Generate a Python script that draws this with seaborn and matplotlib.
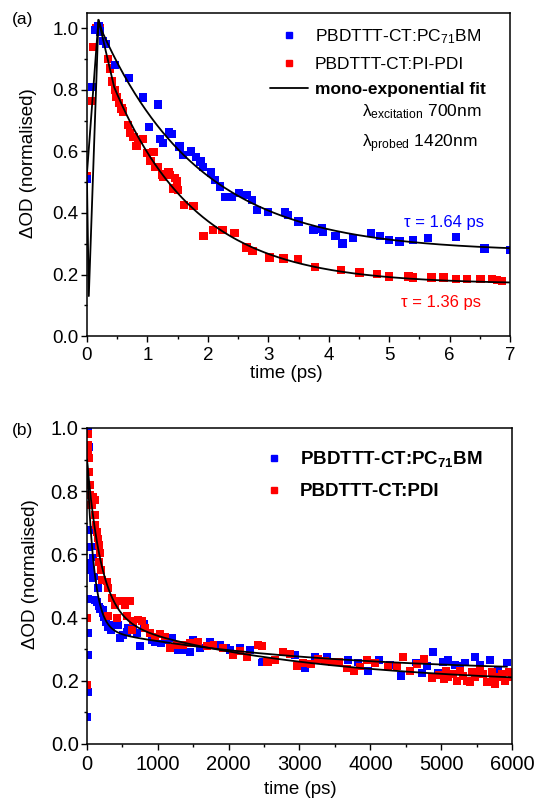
import numpy as np
import pandas as pd
import matplotlib
matplotlib.use('Agg')
import matplotlib.pyplot as plt
import seaborn as sns
from matplotlib.ticker import MultipleLocator
from matplotlib.lines import Line2D

sns.set_theme(style='ticks')
plt.rcParams['font.family'] = ['Liberation Sans', 'DejaVu Sans']
plt.rcParams['mathtext.fontset'] = 'custom'
plt.rcParams['mathtext.rm'] = 'Liberation Sans'
plt.rcParams['mathtext.it'] = 'Liberation Sans:italic'
plt.rcParams['mathtext.bf'] = 'Liberation Sans:bold'
plt.rcParams['axes.edgecolor'] = 'black'
plt.rcParams['text.color'] = 'black'
plt.rcParams['axes.labelcolor'] = 'black'
plt.rcParams['xtick.color'] = 'black'
plt.rcParams['ytick.color'] = 'black'

BLUE = '#0000ff'
RED = '#ff0000'

# ---------------- panel (a) data: 0-7 ps ----------------
a_blue_t = [0.00, 0.08, 0.13, 0.19, 0.22, 0.27, 0.31, 0.46, 0.70, 0.93, 1.03, 1.17, 1.21, 1.26,
            1.36, 1.40, 1.53, 1.59, 1.72, 1.80, 1.88, 1.92, 2.05, 2.12, 2.20, 2.28, 2.40, 2.51,
            2.64, 2.73, 2.81, 3.00, 3.28, 3.33, 3.50, 3.75, 3.89, 3.91, 4.11, 4.23, 4.40, 4.70,
            4.85, 5.00, 5.17, 5.40, 5.64, 6.11, 6.58, 7.00]
a_blue_y = [0.51, 0.81, 0.995, 1.006, 0.99, 0.96, 0.95, 0.88, 0.838, 0.775, 0.68, 0.753, 0.64, 0.627,
            0.664, 0.656, 0.616, 0.589, 0.60, 0.583, 0.567, 0.549, 0.532, 0.507, 0.486, 0.453, 0.453, 0.464,
            0.459, 0.442, 0.41, 0.404, 0.404, 0.393, 0.372, 0.345, 0.35, 0.339, 0.325, 0.301, 0.318, 0.336,
            0.325, 0.312, 0.307, 0.312, 0.318, 0.321, 0.285, 0.28]

a_red_t = [0.00, 0.08, 0.10, 0.16, 0.21, 0.35, 0.38, 0.41, 0.46, 0.49, 0.53, 0.57, 0.60, 0.68,
           0.71, 0.77, 0.82, 0.85, 0.93, 0.99, 1.05, 1.10, 1.13, 1.18, 1.24, 1.26, 1.35, 1.37,
           1.43, 1.46, 1.49, 1.51, 1.61, 1.76, 1.93, 2.08, 2.24, 2.44, 2.64, 2.74, 3.02, 3.25,
           3.49, 3.77, 4.20, 4.51, 4.80, 5.00, 5.32, 5.40, 5.70, 5.90, 6.11, 6.29, 6.51, 6.70,
           6.78, 6.87]
a_red_y = [0.52, 0.764, 0.939, 1.0, 1.0, 0.90, 0.87, 0.827, 0.80, 0.778, 0.757, 0.74, 0.73, 0.686,
           0.659, 0.648, 0.618, 0.637, 0.641, 0.594, 0.57, 0.599, 0.55, 0.55, 0.525, 0.518, 0.534, 0.523,
           0.48, 0.513, 0.502, 0.475, 0.426, 0.423, 0.325, 0.345, 0.345, 0.336, 0.288, 0.277, 0.255, 0.252,
           0.25, 0.225, 0.215, 0.207, 0.202, 0.193, 0.193, 0.19, 0.19, 0.19, 0.186, 0.185, 0.185, 0.185,
           0.182, 0.178]

# mono-exponential fit parameters (y = c + A exp(-t/tau))
a_blue_tau, a_blue_A, a_blue_c = 1.64, 0.834, 0.274
a_red_tau, a_red_A, a_red_c = 1.36, 0.891, 0.169
# instrument-limited rise of the fits
a_blue_rise_t = [0.0, 0.19]
a_blue_rise_y = [0.53, 1.028]
a_red_rise_t = [0.0, 0.03, 0.19]
a_red_rise_y = [0.50, 0.13, 1.028]
a_blue_decay_start = 0.25
a_red_decay_start = 0.45

# ---------------- panel (b) data: 0-6000 ps ----------------
b_blue_t = [8, 10, 12, 14, 16, 20, 24, 28, 32, 36, 40, 52, 66, 80, 89, 100, 110, 137, 150, 160,
            170, 184, 220, 230, 245, 268, 300, 340, 372, 442, 466, 513, 560, 583, 650, 700, 748,
            810, 913, 960, 1040, 1123, 1196, 1290, 1360, 1460, 1501, 1596, 1737, 1878, 1970, 2020,
            2160, 2302, 2467, 2490, 2937, 3078, 3219, 3384, 3690, 3831, 3972, 4127, 4278, 4429,
            4645, 4735, 4796, 4881, 4961, 5031, 5102, 5200, 5270, 5337, 5478, 5549, 5690, 5808, 5926]
b_blue_y = [0.085, 0.165, 0.282, 0.352, 0.459, 0.994, 0.94, 0.756, 0.677, 0.624, 0.573, 0.55, 0.625,
            0.59, 0.525, 0.53, 0.456, 0.45, 0.492, 0.493, 0.435, 0.427, 0.424, 0.414, 0.403, 0.387,
            0.371, 0.36, 0.377, 0.377, 0.335, 0.345, 0.354, 0.366, 0.365, 0.35, 0.31, 0.38, 0.329,
            0.324, 0.318, 0.33, 0.335, 0.297, 0.297, 0.291, 0.329, 0.303, 0.324, 0.313, 0.304, 0.297,
            0.303, 0.297, 0.258, 0.26, 0.281, 0.24, 0.274, 0.274, 0.266, 0.258, 0.232, 0.266, 0.25,
            0.215, 0.258, 0.224, 0.248, 0.291, 0.226, 0.26, 0.266, 0.25, 0.248, 0.258, 0.274, 0.25,
            0.266, 0.232, 0.258]

b_red_t = [6, 8, 15, 18, 22, 33, 36, 42, 45, 48, 66, 89, 113, 116, 120, 137, 160, 165, 184, 170,
           193, 207, 278, 301, 348, 395, 442, 489, 536, 607, 301, 419, 560, 654, 725, 772, 819,
           630, 890, 960, 1030, 1100, 1170, 1265, 1360, 1455, 1572, 1690, 1785, 1925, 2066, 2160,
           2254, 2419, 2467, 2545, 2560, 2655, 2772, 2866, 2969, 3054, 3157, 3266, 3360, 3454,
           3563, 3675, 3769, 3854, 3957, 4065, 4254, 4371, 4467, 4561, 4664, 4758, 4867, 4975,
           5040, 5070, 5100, 5172, 5220, 5267, 5314, 5360, 5408, 5432, 5479, 5550, 5596, 5643,
           5714, 5737, 5761, 5808, 5855, 5902, 5950, 5997]
b_red_y = [0.187, 0.40, 0.98, 0.946, 0.92, 0.904, 0.862, 0.82, 0.788, 0.757, 0.757, 0.782, 0.772,
           0.725, 0.694, 0.672, 0.65, 0.63, 0.604, 0.577, 0.551, 0.52, 0.514, 0.493, 0.462, 0.44,
           0.452, 0.452, 0.44, 0.452, 0.404, 0.399, 0.404, 0.388, 0.394, 0.388, 0.367, 0.362,
           0.351, 0.34, 0.348, 0.34, 0.303, 0.314, 0.314, 0.319, 0.324, 0.309, 0.314, 0.305, 0.282,
           0.293, 0.274, 0.313, 0.31, 0.26, 0.26, 0.266, 0.292, 0.284, 0.247, 0.255, 0.253, 0.268,
           0.264, 0.26, 0.26, 0.239, 0.232, 0.245, 0.266, 0.255, 0.245, 0.248, 0.276, 0.232, 0.253,
           0.27, 0.208, 0.218, 0.205, 0.232, 0.211, 0.222, 0.2, 0.232, 0.216, 0.2, 0.195, 0.227,
           0.211, 0.237, 0.221, 0.197, 0.227, 0.208, 0.19, 0.211, 0.222, 0.2, 0.227, 0.211]

# bi-exponential fits for panel (b): y = a1 exp(-t/t1) + a2 exp(-t/t2) + c
b_blue_fit = dict(a1=0.535, t1=100.0, a2=0.14, t2=3000.0, c=0.225, tmax=5930)
b_red_fit = dict(a1=0.495, t1=200.0, a2=0.22, t2=2800.0, c=0.185, tmax=6000)

legend_a = ['PBDTTT-CT:PC$_{71}$BM', 'PBDTTT-CT:PI-PDI', 'mono-exponential fit']
legend_b = [r'PBDTTT-CT:PC$_{\mathbf{71}}$BM', 'PBDTTT-CT:PDI']

# ---------------- build fit curves ----------------
def mono(t, A, tau, c):
    return c + A * np.exp(-np.asarray(t) / tau)

ta_b = np.linspace(a_blue_decay_start, 7, 300)
fit_a_blue = pd.DataFrame({'t': np.concatenate([a_blue_rise_t, ta_b]),
                           'y': np.concatenate([a_blue_rise_y, mono(ta_b, a_blue_A, a_blue_tau, a_blue_c)])})
ta_r = np.linspace(a_red_decay_start, 7, 300)
fit_a_red = pd.DataFrame({'t': np.concatenate([a_red_rise_t, ta_r]),
                          'y': np.concatenate([a_red_rise_y, mono(ta_r, a_red_A, a_red_tau, a_red_c)])})

def biexp(p):
    t = np.linspace(0, p['tmax'], 1500)
    return pd.DataFrame({'t': t, 'y': p['a1'] * np.exp(-t / p['t1']) + p['a2'] * np.exp(-t / p['t2']) + p['c']})

fit_b_blue = biexp(b_blue_fit)
fit_b_red = biexp(b_red_fit)

# ---------------- figure ----------------
fig = plt.figure(figsize=(5.35, 7.98), dpi=100)
ax1 = fig.add_axes([0.1626, 0.5789, 0.7907, 0.4048])
ax2 = fig.add_axes([0.1626, 0.0677, 0.7944, 0.396])

# panel (a)
sns.scatterplot(x=a_red_t, y=a_red_y, ax=ax1, marker='s', s=36, color=RED, edgecolor='none', linewidth=0, legend=False, zorder=2)
sns.scatterplot(x=a_blue_t, y=a_blue_y, ax=ax1, marker='s', s=36, color=BLUE, edgecolor='none', linewidth=0, legend=False, zorder=2)
sns.lineplot(data=fit_a_blue, x='t', y='y', ax=ax1, color='black', lw=1.3, estimator=None, sort=False, zorder=3)
sns.lineplot(data=fit_a_red, x='t', y='y', ax=ax1, color='black', lw=1.3, estimator=None, sort=False, zorder=3)

ax1.set_xlim(0, 7)
ax1.set_ylim(0, 1.05)
ax1.xaxis.set_major_locator(MultipleLocator(1))
ax1.xaxis.set_minor_locator(MultipleLocator(0.5))
ax1.yaxis.set_major_locator(MultipleLocator(0.2))
ax1.yaxis.set_minor_locator(MultipleLocator(0.1))
ax1.yaxis.set_major_formatter(matplotlib.ticker.FormatStrFormatter('%.1f'))

h_a = [Line2D([], [], marker='s', ls='none', color=BLUE, markersize=4.5),
       Line2D([], [], marker='s', ls='none', color=RED, markersize=4.5),
       Line2D([], [], color='black', lw=1.3)]
leg = ax1.legend(h_a, legend_a, loc='upper left', bbox_to_anchor=(0.432, 0.955), frameon=False,
                 fontsize=12.5, handlelength=2.2, handletextpad=0.4, labelspacing=0.6, borderpad=0,
                 borderaxespad=0)
leg.get_texts()[2].set_fontweight('bold')

ax1.text(0.650, 0.695, 'λ$_{\\mathrm{excitation}}$ 700nm', transform=ax1.transAxes, fontsize=12.5,
         ha='left', va='center')
ax1.text(0.650, 0.596, 'λ$_{\\mathrm{probed}}$ 1420nm', transform=ax1.transAxes, fontsize=12.5,
         ha='left', va='center')
ax1.text(0.845, 0.35, 'τ = 1.64 ps', transform=ax1.transAxes, fontsize=12, color=BLUE, ha='center', va='center')
ax1.text(0.837, 0.105, 'τ = 1.36 ps', transform=ax1.transAxes, fontsize=12, color=RED, ha='center', va='center')

ax1.set_xlabel('time (ps)', fontsize=13.5)
ax1.set_ylabel('ΔOD (normalised)', fontsize=13.5)
ax1.xaxis.set_label_coords(0.47, -0.09)
ax1.yaxis.set_label_coords(-0.117, 0.536)

# panel (b)
sns.scatterplot(x=b_blue_t, y=b_blue_y, ax=ax2, marker='s', s=32, color=BLUE, edgecolor='none', linewidth=0, legend=False, zorder=2)
sns.scatterplot(x=b_red_t, y=b_red_y, ax=ax2, marker='s', s=32, color=RED, edgecolor='none', linewidth=0, legend=False, zorder=2)
sns.lineplot(data=fit_b_blue, x='t', y='y', ax=ax2, color='black', lw=1.3, estimator=None, sort=False, zorder=3)
sns.lineplot(data=fit_b_red, x='t', y='y', ax=ax2, color='black', lw=1.3, estimator=None, sort=False, zorder=3)

ax2.set_xlim(0, 6000)
ax2.set_ylim(0, 1.0)
ax2.xaxis.set_major_locator(MultipleLocator(1000))
ax2.xaxis.set_minor_locator(MultipleLocator(500))
ax2.yaxis.set_major_locator(MultipleLocator(0.2))
ax2.yaxis.set_minor_locator(MultipleLocator(0.1))
ax2.yaxis.set_major_formatter(matplotlib.ticker.FormatStrFormatter('%.1f'))

h_b = [Line2D([], [], marker='s', ls='none', color=BLUE, markersize=4.5),
       Line2D([], [], marker='s', ls='none', color=RED, markersize=4.5)]
ax2.legend(h_b, legend_b, loc='upper left', bbox_to_anchor=(0.419, 0.932), frameon=False,
           prop={'size': 13.5, 'weight': 'bold'}, handlelength=1.0, handletextpad=0.85,
           labelspacing=0.72, borderpad=0, borderaxespad=0)

ax2.set_xlabel('time (ps)', fontsize=13.5)
ax2.set_ylabel('ΔOD (normalised)', fontsize=13.5)
ax2.xaxis.set_label_coords(0.501, -0.117)
ax2.yaxis.set_label_coords(-0.113, 0.538)

for ax, fs in ((ax1, 13.5), (ax2, 14.5)):
    for sp in ax.spines.values():
        sp.set_visible(True)
        sp.set_linewidth(1.1)
        sp.set_color('black')
    ax.tick_params(which='major', direction='out', length=4, width=1, labelsize=fs, top=False, right=False)
    ax.tick_params(which='minor', direction='out', length=2.2, width=1, top=False, right=False)
    ax.tick_params(axis='x', which='major', pad=4)
    ax.tick_params(axis='y', which='major', pad=2)

fig.text(0.0224, 0.976, '(a)', fontsize=12.5, ha='left', va='center')
fig.text(0.0224, 0.460, '(b)', fontsize=12.5, ha='left', va='center')

fig.savefig('out.png', dpi=100)
